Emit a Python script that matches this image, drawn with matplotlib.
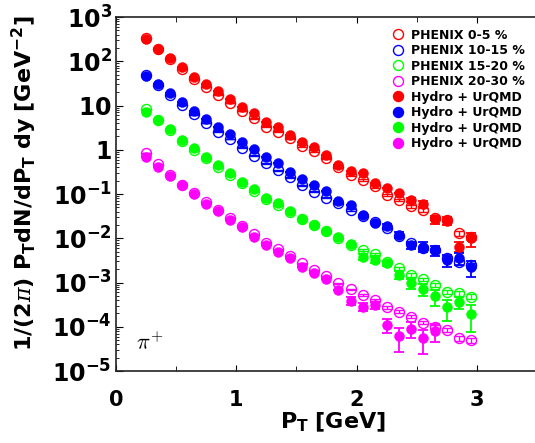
import matplotlib
matplotlib.use("Agg")
import matplotlib.pyplot as plt
import numpy as np
from matplotlib.lines import Line2D
from matplotlib.ticker import MultipleLocator, LogLocator, NullFormatter

plt.rcParams['font.family'] = 'DejaVu Sans'
plt.rcParams['mathtext.fontset'] = 'custom'
plt.rcParams['mathtext.rm'] = 'DejaVu Sans'
plt.rcParams['mathtext.bf'] = 'DejaVu Sans:bold'
plt.rcParams['mathtext.it'] = 'DejaVu Serif:italic'

pt = [0.25, 0.35, 0.45, 0.55, 0.65, 0.75, 0.85, 0.95, 1.05, 1.15,
      1.25, 1.35, 1.45, 1.55, 1.65, 1.75, 1.85, 1.95, 2.05, 2.15,
      2.25, 2.35, 2.45, 2.55, 2.65, 2.75, 2.85, 2.95]

# PHENIX data (open circles)
phenix_0_5 = [335, 189, 112, 66.8, 39.7, 26.2, 17.7, 11.4, 7.5, 5.14,
              3.32, 2.56, 1.81, 1.22, 0.937, 0.641, 0.407, 0.269, 0.207, 0.148,
              0.0949, 0.0731, 0.0536, 0.0435, 0.0287, 0.0258, 0.0129, 0.0107]
phenix_10_15 = [48.9, 29.1, 17.3, 10.3, 6.32, 4.08, 2.56, 1.75, 1.11, 0.734,
                0.494, 0.344, 0.238, 0.156, 0.113, 0.0834, 0.0617, 0.0435, 0.0318, 0.0233,
                0.0171, 0.0112, 0.00781, 0.0060, 0.00542, 0.00358, 0.0029, 0.00248]
phenix_15_20 = [8.34, 4.70, 2.79, 1.58, 0.986, 0.652, 0.418, 0.269, 0.177, 0.117,
                0.0771, 0.0564, 0.0392, 0.0272, 0.0199, 0.0146, 0.0101, 0.00703, 0.00542, 0.00441,
                0.0029, 0.00209, 0.00148, 0.00118, 0.000879, 0.00062, 0.00057, 0.000478]
phenix_20_30 = [0.832, 0.476, 0.276, 0.163, 0.103, 0.066, 0.0435, 0.0287, 0.0194, 0.0123,
                0.00793, 0.00571, 0.00397, 0.00272, 0.00191, 0.00137, 0.00096, 0.0007, 0.000522, 0.000403,
                0.000275, 0.000219, 0.000169, 0.000124, 0.0001, 8.45e-5, 5.48e-5, 5.02e-5]
phenix_rel_err = [0.01, 0.01, 0.01, 0.01, 0.01, 0.01, 0.015, 0.015, 0.02, 0.02,
                  0.02, 0.025, 0.025, 0.03, 0.03, 0.035, 0.04, 0.045, 0.05, 0.055,
                  0.06, 0.07, 0.08, 0.09, 0.1, 0.11, 0.12, 0.13]

# Hydro + UrQMD (filled circles)
hydro_0_5 = [313, 189, 117, 73, 44.8, 30.6, 21.3, 13.8, 9.1, 6.6,
             4.24, 3.21, 2.15, 1.52, 1.17, 0.76, 0.464, 0.336, 0.294, 0.177,
             0.135, 0.108, 0.0731, 0.0594, 0.0268, 0.0249, 0.00644, 0.00998]
hydro_10_15 = [46.4, 30.6, 19.5, 12.2, 7.5, 4.95, 3.32, 2.23, 1.47, 1.02,
               0.697, 0.502, 0.314, 0.218, 0.160, 0.119, 0.0713, 0.0579, 0.0327, 0.0224,
               0.0189, 0.0120, 0.00703, 0.00644, 0.00542, 0.00322, 0.00358, 0.00221]
hydro_15_20 = [7.24, 4.70, 2.90, 1.66, 1.08, 0.697, 0.452, 0.294, 0.190, 0.130,
               0.0834, 0.0626, 0.0424, 0.0272, 0.0199, 0.0148, 0.0107, 0.00723, 0.00383, 0.00322,
               0.00272, 0.00148, 0.00096, 0.00070, 0.000495, 0.000275, 0.000368, 0.000194]
hydro_20_30 = [0.697, 0.414, 0.259, 0.160, 0.0984, 0.061, 0.0413, 0.0258, 0.0177, 0.0108,
               0.00703, 0.00497, 0.00352, 0.00228, 0.00161, 0.00118, 0.000677, 0.000388, 0.000284, 0.00031,
               0.00011, 6.03e-5, 9.12e-5, 5.48e-5, 8.02e-5, np.nan, np.nan, np.nan]

hydro_err_0_5 = [0] * 22 + [0.1, 0.15, 0.2, 0.2, 0.25, 0.35]
hydro_err_10_15 = [0] * 20 + [0.1, 0.15, 0.2, 0.25, 0.25, 0.3, 0.3, 0.4]
hydro_err_15_20 = [0] * 18 + [0.15, 0.15, 0.15, 0.2, 0.25, 0.3, 0.4, 0.5, 0.3, 0.6]
hydro_err_20_30 = [0] * 17 + [0.2, 0.2, 0.2, 0.35, 0.55, 0.4, 0.55, 0.45, 0, 0, 0]

colors = ['#ff0000', '#0000ff', '#00ff00', '#ff00ff']
phenix = [phenix_0_5, phenix_10_15, phenix_15_20, phenix_20_30]
hydro = [hydro_0_5, hydro_10_15, hydro_15_20, hydro_20_30]
hydro_err = [hydro_err_0_5, hydro_err_10_15, hydro_err_15_20, hydro_err_20_30]
phenix_labels = ['PHENIX 0-5 %', 'PHENIX 10-15 %', 'PHENIX 15-20 %', 'PHENIX 20-30 %']

fig = plt.figure(figsize=(5.35, 4.43), dpi=100)
# axes runs past the right edge of the image, like the reference crop
ax = fig.add_axes([0.2168, 0.1625, 0.8093, 0.7991])

ms = 7.2
for col, dat in zip(colors, phenix):
    dat = np.array(dat)
    ax.plot(pt, dat, 'o', ms=ms, mfc='white', mec=col, mew=1.0, zorder=2)
    ax.errorbar(pt, dat, yerr=dat * np.array(phenix_rel_err), fmt='none',
                ecolor=col, elinewidth=1.0, capsize=3.3, capthick=1.0, zorder=3)

for col, hyd, err in zip(colors, hydro, hydro_err):
    hyd = np.array(hyd)
    ax.errorbar(pt, hyd, yerr=hyd * np.array(err), fmt='none',
                ecolor=col, elinewidth=1.3, capsize=3.3, capthick=1.3, zorder=4)
    ax.plot(pt, hyd, 'o', ms=ms, mfc=col, mec=col, mew=0.3, zorder=5)

ax.set_yscale('log')
ax.set_xlim(0, 3.6)
ax.set_ylim(1e-5, 1e3)

ax.set_xticks([0, 1, 2, 3])
ax.set_xticklabels(['0', '1', '2', '3'], fontsize=15, fontweight='bold')
ax.xaxis.set_minor_locator(MultipleLocator(0.5))

yt = [1e3, 1e2, 1e1, 1e0, 1e-1, 1e-2, 1e-3, 1e-4, 1e-5]
ytl = [r'$\mathbf{10^{3}}$', r'$\mathbf{10^{2}}$', r'$\mathbf{10}$', r'$\mathbf{1}$',
       r'$\mathbf{10^{-1}}$', r'$\mathbf{10^{-2}}$', r'$\mathbf{10^{-3}}$',
       r'$\mathbf{10^{-4}}$', r'$\mathbf{10^{-5}}$']
ax.set_yticks(yt)
ax.set_yticklabels(ytl, fontsize=17)
ax.yaxis.set_minor_locator(LogLocator(base=10, subs=np.arange(2, 10)))
ax.yaxis.set_minor_formatter(NullFormatter())

ax.tick_params(which='both', direction='in', top=True, right=True)
ax.tick_params(axis='x', which='major', length=4, pad=14)
ax.tick_params(axis='x', which='minor', length=3.5)
ax.tick_params(axis='y', which='major', length=5, pad=3)
ax.tick_params(axis='y', which='minor', length=2.5)
for s in ax.spines.values():
    s.set_linewidth(1.2)
    s.set_color('#222222')

ax.set_xlabel(r'$\mathbf{P_{T}\ [GeV]}$', fontsize=16, labelpad=0)
ax.set_ylabel(r'$\mathbf{1/(2}\mathit{\pi}\mathbf{)\ P_{T}dN/dP_{T}\ dy\ [GeV^{-2}]}$', fontsize=16)
ax.yaxis.set_label_coords(-0.177, 0.53)

ax.text(0.047, 0.05, r'$\pi^{+}$', transform=ax.transAxes, fontsize=16,
        math_fontfamily='cm', ha='left', va='bottom')

handles = []
for col in colors:
    handles.append(Line2D([], [], marker='o', ls='none', ms=ms, mfc='white', mec=col, mew=1.0))
for col in colors:
    handles.append(Line2D([], [], marker='o', ls='none', ms=ms, mfc=col, mec=col))
labels = phenix_labels + ['Hydro + UrQMD'] * 4
ax.legend(handles, labels, loc='upper left', bbox_to_anchor=(0.733, 0.935),
          bbox_transform=fig.transFigure, frameon=False,
          prop={'weight': 'bold', 'size': 9}, handlelength=1.0, handletextpad=0.5,
          labelspacing=0.2, borderpad=0, borderaxespad=0)

fig.savefig('out.png', dpi=100)
